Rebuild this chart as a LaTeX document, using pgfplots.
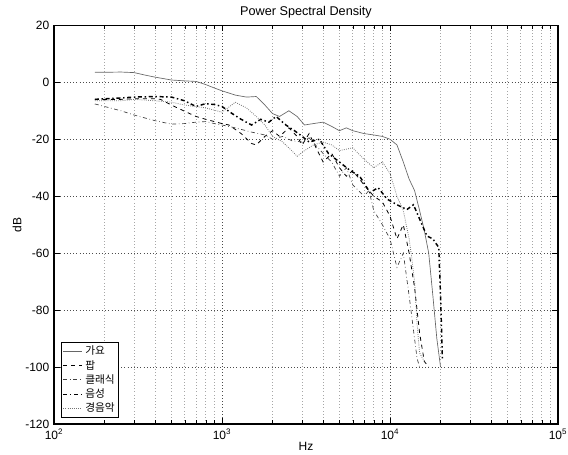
\documentclass[border=0pt]{standalone}
\usepackage{fontspec}
\setmainfont{Liberation Sans}
\newfontfamily\kr{Noto Sans CJK KR}
\usepackage{pgfplots}
\pgfplotsset{compat=1.18}
\usetikzlibrary{calc}

\begin{document}
\begin{tikzpicture}
\begin{axis}[
    name=ax,
    scale only axis,
    width=378pt, height=299pt,
    xmode=log,
    xmin=100, xmax=100000,
    ymin=-120, ymax=20,
    xtick={100,1000,10000,100000},
    xticklabels={10\textsuperscript{2},10\textsuperscript{3},10\textsuperscript{4},10\textsuperscript{5}},
    ytick={-120,-100,...,20},
    /pgf/number format/assume math mode=true,
    tick label style={font=\fontsize{9}{10}\selectfont},
    title={Power Spectral Density},
    title style={font=\fontsize{9.5}{11}\selectfont, yshift=-4pt},
    xlabel={Hz}, ylabel={dB},
    label style={font=\fontsize{9}{10}\selectfont},
    xlabel style={yshift=4.5pt},
    ylabel style={yshift=-4pt},
    grid=both,
    major grid style={dotted, black!70},
    minor grid style={dotted, black!35},
    axis line style={black, line width=0.8pt},
    tick style={black},
    legend style={at={(0.014,0.015)}, anchor=south west, font=\kr\fontsize{8}{8.5}\selectfont,
        draw=black, line width=0.8pt, inner sep=1pt, row sep=-1.5pt},
    legend cell align=left,
    legend image post style={line width=0.6pt},
    legend image code/.code={\draw[#1] (0cm,0cm) -- (0.5cm,0cm);},
]

\addplot[gray!80!black, line width=0.5pt] coordinates {
(175,3.5)(200,3.5)(250,3.6)(300,3.4)(350,2.5)(400,1.8)(500,0.8)(600,0.5)(700,0.3)
(800,-0.8)(900,-2)(1000,-3)(1200,-4.5)(1400,-5.2)(1600,-5)(1800,-8)(2000,-11)
(2200,-12)(2500,-10)(2800,-12)(3100,-15)(3500,-14.5)(4000,-14)(4500,-15.5)(5000,-17)
(5500,-16)(6000,-17)(7000,-18)(8000,-18.5)(9000,-19)(10000,-20)(11000,-22)(12000,-28)
(13000,-34)(14000,-38)(15000,-45)(16000,-52)(17000,-60)(18000,-75)(19000,-90)(20000,-100)
};
\addlegendentry{가요}

\addplot[black, line width=0.6pt, dashed] coordinates {
(175,-6)(250,-6)(300,-5.8)(400,-5.8)(430,-6)(500,-8)(600,-10.2)(700,-12)(800,-13)
(1000,-14.5)(1100,-15)(1300,-18)(1500,-21.5)(1600,-22)(1800,-19)(2000,-17)(2200,-19)
(2500,-16)(2800,-19)(3000,-22)(3300,-18)(3700,-24)(4000,-28)(4500,-25)(5000,-30)
(5500,-33)(6000,-31)(7000,-36)(8000,-40)(9000,-42)(10000,-47)(11000,-55)(12000,-50)
(13000,-60)(14000,-72)(15000,-88)(16000,-98)(17000,-100)
};
\addlegendentry{팝}

\addplot[black!75, line width=0.5pt, dash dot] coordinates {
(175,-7.6)(200,-8.5)(250,-10)(300,-11.5)(400,-13.5)(500,-14.7)(600,-14.5)(700,-14)
(800,-13.8)(900,-14.5)(1000,-15)(1200,-16)(1500,-17.5)(1800,-18.5)(2000,-20)(2300,-19)
(2600,-20.5)(3000,-21)(3300,-19.5)(3600,-22)(4000,-25)(4500,-28)(5000,-33)(5500,-30)
(6000,-36)(7000,-40)(7500,-38)(8000,-45)(9000,-50)(10000,-55)(11000,-65)(12000,-60)
(13000,-75)(14000,-90)(14500,-97)(15000,-100)
};
\addlegendentry{클래식}

\addplot[black, line width=1.1pt, dash dot] coordinates {
(175,-6)(250,-5.5)(300,-5.2)(400,-5)(500,-5.2)(600,-6.5)(700,-8.5)(800,-7.5)(900,-7.8)
(1000,-8.5)(1150,-11)(1300,-13)(1500,-15)(1700,-13)(1900,-14)(2100,-12)(2400,-15)
(2700,-17)(3000,-19)(3300,-21)(3800,-20)(4300,-25)(5000,-28)(5800,-31)(6600,-33)
(7600,-38.7)(8500,-37)(9600,-41)(11000,-43)(12600,-44.7)(13800,-43)(15000,-48)
(16600,-54)(18000,-55)(19500,-58)(20000,-75)(20500,-97)
};
\addlegendentry{음성}

\addplot[black!55, line width=0.6pt, densely dotted] coordinates {
(175,-6.5)(250,-6.5)(300,-6)(400,-6.5)(500,-7)(600,-8)(800,-9)(1000,-10.5)(1200,-7)
(1400,-9)(1600,-12)(1800,-15)(2000,-19)(2300,-21)(2600,-24)(2800,-26)(3100,-24)
(3500,-22)(4000,-21)(4500,-22)(5000,-24)(6000,-23)(7000,-27)(8000,-30)(9000,-28)
(10000,-32)(11000,-40)(12000,-45)(13000,-55)(13500,-62)(14000,-70)(14500,-85)
(15000,-95)(16000,-98)
};
\addlegendentry{경음악}

\end{axis}
\pgfresetboundingbox
\useasboundingbox ($(ax.south west)+(-40.5pt,-22.5pt)$) rectangle ($(ax.north east)+(7.5pt,19pt)$);
\end{tikzpicture}
\end{document}
